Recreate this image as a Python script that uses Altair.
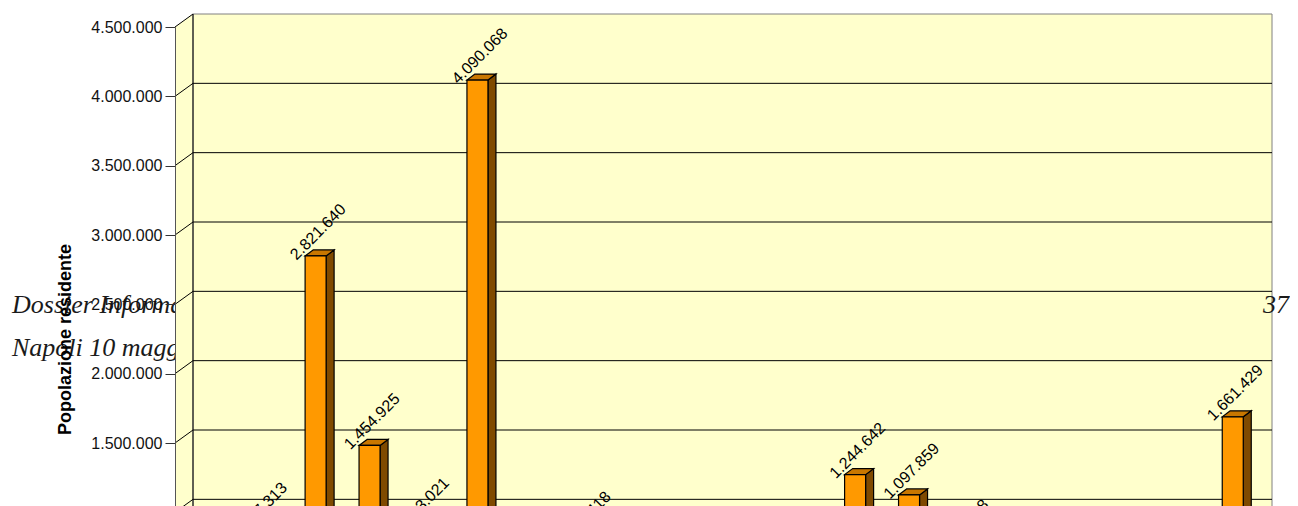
import altair as alt
import pandas as pd

# ---------------- data ----------------
# category names fall below the visible part of the picture; kept as neutral ids
categories = [f"{i + 1:02d}" for i in range(20)]
values = [412650, 847313, 2821640, 1454925, 883021, 4090068, 356940, 782418, 540210, 287730,
          618450, 471890, 1244642, 1097859, 725318, 398560, 205640, 633270, 489120, 1661429]
ticks = [0, 500000, 1000000, 1500000, 2000000, 2500000, 3000000, 3500000, 4000000, 4500000]
y_title = "Popolazione residente"
header_line1 = "Dossier Informativo"
header_line2 = "Napoli 10 maggio"
page_number = "37"

# ---------------- geometry / style constants (pixels) ----------------
W = 1079            # front plane width
H_RANGE = 624       # front plane height (0 .. 4.5M)
VIEW_H = 479
YMAX = 4500000
N = len(categories)
UX = W / N                  # px per x unit
UY = H_RANGE / YMAX         # px per y unit
WALL_DX, WALL_DY = 18, 13   # depth of walls
BAR_DX, BAR_DY = 8, 6       # depth of bars
BAR_LEFT, BAR_W = 22.2, 21  # bar placement inside its band
BAR_LIFT = -3.8

YELLOW = "#FFFFCC"
FRONT = "#FF9900"
SIDE = "#7F4A00"
TOP = "#C97700"

# ---------------- tables built from the arrays ----------------
def fmt(v):
    return f"{v:,}".replace(",", ".")

front_rows, side_rows, top_rows = [], [], []
for i, (c, v) in enumerate(zip(categories, values)):
    L = i + BAR_LEFT / UX
    R = L + BAR_W / UX
    dx = BAR_DX / UX
    dy = BAR_DY / UY
    front_rows.append({"cat": c, "L": L, "R": R, "v": v, "zero": 0,
                       "cx": (L + R) / 2, "label": fmt(v)})
    side_rows.append({"cat": c, "x": R, "y": v, "y2": 0})
    side_rows.append({"cat": c, "x": R + dx, "y": v + dy, "y2": dy})
    top_rows.append({"cat": c, "y": v, "x": L, "x2": R})
    top_rows.append({"cat": c, "y": v + dy, "x": L + dx, "x2": R + dx})

front_df = pd.DataFrame(front_rows)
side_df = pd.DataFrame(side_rows)
top_df = pd.DataFrame(top_rows)
tick_df = pd.DataFrame({"v": ticks, "x0": [0] * len(ticks), "x1": [N] * len(ticks)})
wall_df = pd.DataFrame({"x0": [0], "x1": [N], "y0": [0], "y1": [YMAX]})
lwall_df = pd.DataFrame({"x": [0, WALL_DX / UX],
                         "y": [0, WALL_DY / UY],
                         "y2": [YMAX, YMAX + WALL_DY / UY]})
one_df = pd.DataFrame({"t": [header_line1]})

xs = alt.Scale(domain=[0, N], range=[0, W], nice=False, zero=False)
ys = alt.Scale(domain=[0, YMAX], range=[H_RANGE, 0], nice=False, zero=False)

label_expr = "replace(replace(replace(format(datum.value, ',d'), ',', '.'), ',', '.'), ',', '.')"
yax = alt.Axis(
    values=ticks, labelExpr=label_expr, grid=False, zindex=1,
    tickSize=10, tickColor="#333333", tickWidth=1,
    domainColor="#555555", domainWidth=1,
    labelFont="Liberation Sans", labelFontSize=16, labelColor="#111111", labelPadding=3,
    title=y_title, titleFont="Liberation Sans", titleFontSize=18, titleFontWeight="bold",
    titleColor="#000000", titleAngle=270, titleX=-110, titleY=H_RANGE / 2,
    titleAlign="center", titleBaseline="middle")


def X(f):
    return alt.X(f, scale=xs, axis=None)


def Y(f):
    return alt.Y(f, scale=ys, axis=yax)


# ---------------- layers ----------------
hdr_font = dict(font="Liberation Serif", fontStyle="italic", fontSize=26, color="#1a1a1a",
                baseline="alphabetic")
hdr1 = alt.Chart(one_df).mark_text(align="left", **hdr_font).encode(
    x=alt.value(-163), y=alt.value(286), text=alt.value(header_line1))
hdr2 = alt.Chart(one_df).mark_text(align="left", **hdr_font).encode(
    x=alt.value(-163), y=alt.value(329), text=alt.value(header_line2))
hdr3 = alt.Chart(one_df).mark_text(align="right", **hdr_font).encode(
    x=alt.value(1114), y=alt.value(286), text=alt.value(page_number))

left_wall = alt.Chart(lwall_df).mark_area(fill=YELLOW, orient="vertical").encode(
    x=X("x:Q"), y=Y("y:Q"), y2="y2:Q")

back_wall = alt.Chart(wall_df).mark_rect(
    fill=YELLOW, stroke="#808080", strokeWidth=1,
    xOffset=WALL_DX, x2Offset=WALL_DX, yOffset=-WALL_DY, y2Offset=-WALL_DY).encode(
    x=X("x0:Q"), x2="x1:Q", y=Y("y0:Q"), y2="y1:Q")

grid = alt.Chart(tick_df).transform_filter(f"datum.v < {YMAX}").mark_rule(
    color="#000000", strokeWidth=1,
    xOffset=WALL_DX, x2Offset=WALL_DX, yOffset=-WALL_DY).encode(
    x=X("x0:Q"), x2="x1:Q", y=Y("v:Q"))

corner = alt.Chart(wall_df).mark_rule(
    color="#000000", strokeWidth=1,
    xOffset=WALL_DX, yOffset=-WALL_DY, y2Offset=-WALL_DY).encode(
    x=X("x0:Q"), y=Y("y0:Q"), y2="y1:Q")

diag = alt.Chart(tick_df).mark_rule(
    color="#000000", strokeWidth=1, x2Offset=WALL_DX, y2Offset=-WALL_DY).encode(
    x=X("x0:Q"), x2="x0:Q", y=Y("v:Q"), y2="v:Q")

side = alt.Chart(side_df).mark_area(
    fill=SIDE, stroke="#000000", strokeWidth=1.2, orient="vertical",
    yOffset=BAR_LIFT, y2Offset=BAR_LIFT).encode(
    x=X("x:Q"), y=Y("y:Q"), y2="y2:Q", detail="cat:N")

top = alt.Chart(top_df).mark_area(
    fill=TOP, stroke="#000000", strokeWidth=1.2, orient="horizontal",
    yOffset=BAR_LIFT).encode(
    y=Y("y:Q"), x=X("x:Q"), x2="x2:Q", detail="cat:N")

front = alt.Chart(front_df).mark_rect(
    fill=FRONT, stroke="#000000", strokeWidth=1.2,
    yOffset=BAR_LIFT, y2Offset=BAR_LIFT).encode(
    x=X("L:Q"), x2="R:Q", y=Y("v:Q"), y2="zero:Q")

labels = alt.Chart(front_df).mark_text(
    angle=315, fontSize=16, font="Liberation Sans", color="#000000",
    align="center", baseline="middle", xOffset=2.5, yOffset=BAR_LIFT - 24).encode(
    x=X("cx:Q"), y=Y("v:Q"), text="label:N")

chart = alt.layer(
    hdr1, hdr2, left_wall, back_wall, grid, corner, diag, hdr3, side, top, front, labels
).properties(
    width=W, height=VIEW_H,
    padding={"left": 167, "top": 19, "right": 36, "bottom": 0},
    autosize=alt.AutoSizeParams(type="none"),
    background="white",
).configure_view(stroke=None)

chart.save("out.html", embed_options={"renderer": "svg", "actions": False})
